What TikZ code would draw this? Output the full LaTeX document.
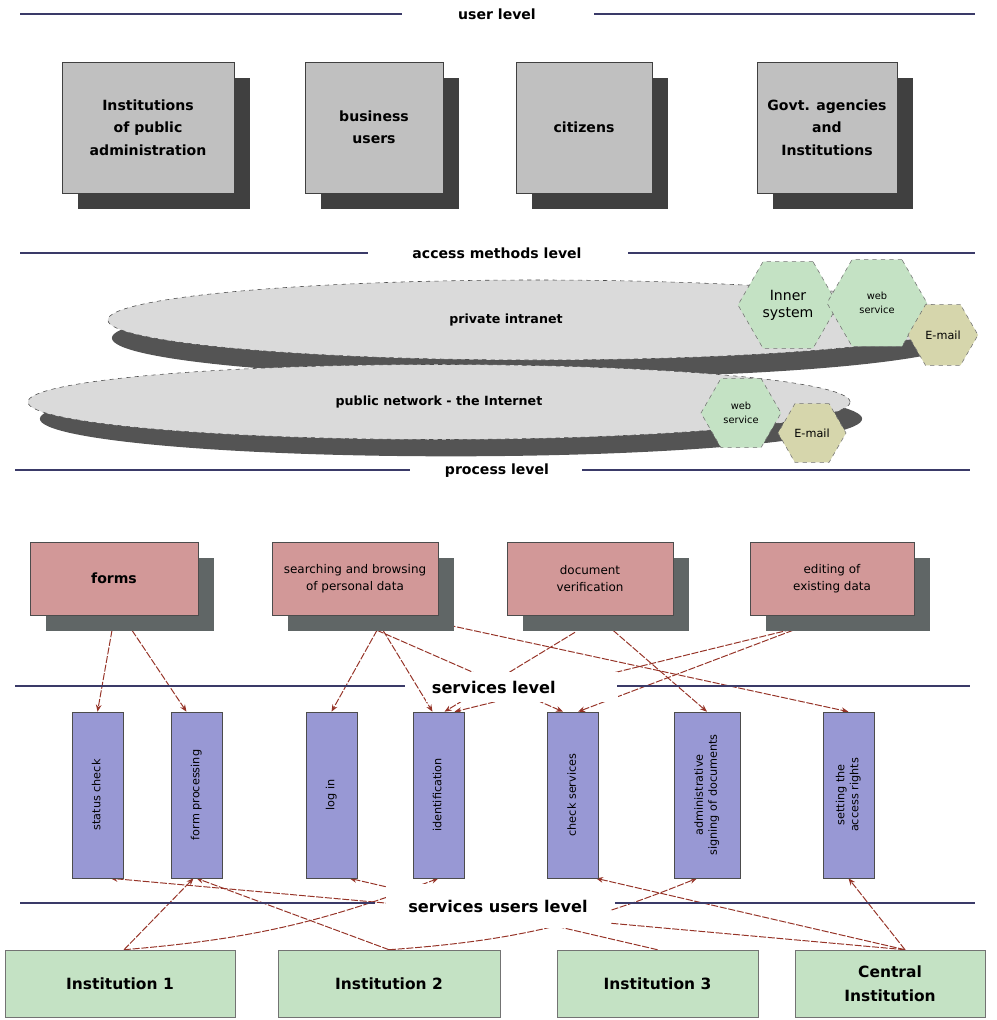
\documentclass[tikz,border=0pt]{standalone}
\usepackage{fontspec}
\setmainfont{DejaVu Sans}
\usetikzlibrary{positioning, arrows.meta, shapes.geometric, shadows, backgrounds}
\definecolor{rulecol}{RGB}{58,58,104}
\definecolor{usrfill}{RGB}{192,192,192}
\definecolor{shade}{RGB}{64,64,64}
\definecolor{netfill}{RGB}{218,218,218}
\definecolor{netshade}{RGB}{84,84,84}
\definecolor{hexgreen}{RGB}{196,226,196}
\definecolor{hextan}{RGB}{214,214,172}
\definecolor{procfill}{RGB}{210,152,152}
\definecolor{procshade}{RGB}{96,102,102}
\definecolor{svcfill}{RGB}{152,152,212}
\definecolor{instfill}{RGB}{196,226,196}
\definecolor{linkcol}{RGB}{150,52,40}
\newcommand{\vtext}[1]{\rotatebox{90}{\begin{tabular}{@{}c@{}}#1\end{tabular}}}

\begin{document}
\begin{tikzpicture}[x=0.025cm, y=-0.025cm,
  lvl/.style={font=\bfseries\fontsize{10}{12}\selectfont, fill=white, inner sep=2pt},
  rule/.style={draw=rulecol, line width=2pt},
  usr/.style={draw=black!75, fill=usrfill, minimum height=3.275cm, align=center,
              font=\bfseries\fontsize{10}{16}\selectfont,
              drop shadow={shadow xshift=0.4cm, shadow yshift=-0.4cm, fill=shade, opacity=1}},
  net/.style={ellipse, draw=black!70, dashed, fill=netfill,
              font=\bfseries\fontsize{9}{11}\selectfont},
  hex/.style={regular polygon, regular polygon sides=6, draw=black!55, dashed,
              fill=hexgreen, inner sep=0pt, align=center},
  proc/.style={draw=black!70, fill=procfill, minimum height=1.825cm, align=center,
               font=\fontsize{8.5}{12}\selectfont,
               drop shadow={shadow xshift=0.4cm, shadow yshift=-0.4cm, fill=procshade, opacity=1}},
  svc/.style={draw=black!70, fill=svcfill, minimum width=1.275cm, minimum height=4.15cm,
              font=\fontsize{8}{10}\selectfont},
  inst/.style={draw=black!55, fill=instfill, minimum height=1.675cm, align=center,
               font=\bfseries\fontsize{11}{17}\selectfont},
  link/.style={draw=linkcol, line width=.7pt, dash pattern=on 5pt off 1.2pt,
               -{Stealth[length=5pt,width=4pt]}},
]
\useasboundingbox (0,0) rectangle (997,1020);

% user level
\node[lvl] (lvuser) at (497,14) {user level};
\draw[rule] (20,14) -- (402,14);
\draw[rule] (594,14) -- (975,14);
\node[usr, minimum width=4.3cm] (pubadm) at (148,127.5) {Institutions\\of public\\administration};
\node[usr, minimum width=3.45cm] (biz) at (374,127.5) {business\\users};
\node[usr, minimum width=3.4cm] (citz) at (584,127.5) {citizens};
\node[usr, minimum width=3.5cm] (govt) at (827,127.5) {Govt. agencies\\and\\Institutions};

% access methods level
\node[lvl] (lvaccess) at (497,253) {access methods level};
\draw[rule] (20,253) -- (368,253);
\draw[rule] (628,253) -- (975,253);
\node[net, minimum width=21.4cm, minimum height=2cm,
      drop shadow={shadow xshift=0.1cm, shadow yshift=-0.45cm, fill=netshade, opacity=1}]
  (intra) at (536,320) {private intranet\hspace*{1.5cm}};
\node[net, minimum width=20.55cm, minimum height=1.875cm,
      drop shadow={shadow xshift=0.3cm, shadow yshift=-0.42cm, fill=netshade, opacity=1}]
  (inet) at (439,402) {public network - the Internet};
\node[hex, minimum size=2.5cm, font=\fontsize{10}{12}\selectfont] (inner) at (788,305) {Inner\\system};
\node[hex, minimum size=2.5cm, font=\fontsize{7}{10}\selectfont] (websvc) at (877,303) {web\\service};
\node[hex, fill=hextan, minimum size=1.75cm, font=\fontsize{8}{10}\selectfont] (mail) at (943,335) {E-mail};
\node[hex, minimum size=2cm, font=\fontsize{7}{10}\selectfont] (websvcb) at (741,413) {web\\service};
\node[hex, fill=hextan, minimum size=1.7cm, font=\fontsize{8}{10}\selectfont] (mailb) at (812,433) {E-mail};

% process level
\node[lvl] (lvproc) at (497,471) {process level};
\draw[rule] (15,470) -- (410,470);
\draw[rule] (582,470) -- (970,470);
\node[proc, minimum width=4.2cm, font=\bfseries\fontsize{10}{12}\selectfont] (forms) at (114,578.5) {forms};
\node[proc, minimum width=4.15cm] (browse) at (355,578.5) {searching and browsing\\of personal data};
\node[proc, minimum width=4.15cm] (verify) at (590,578.5) {document\\verification};
\node[proc, minimum width=4.1cm] (edit) at (832,578.5) {editing of\\existing data};

% services level
\node[lvl, font=\bfseries\fontsize{11.5}{13}\selectfont, anchor=west, text width=4.5cm,
      align=left, inner xsep=4pt, minimum height=0.75cm]
  (lvsvc) at (426,687) {services level};
\draw[rule] (15,686) -- (405,686);
\draw[rule] (617,686) -- (970,686);
\node[svc] (status) at (97.5,795) {\vtext{status check}};
\node[svc] (formproc) at (196.5,795) {\vtext{form processing}};
\node[svc] (login) at (331.5,795) {\vtext{log in}};
\node[svc] (ident) at (438.5,795) {\vtext{identification}};
\node[svc] (checks) at (573,795) {\vtext{check services}};
\node[svc, minimum width=1.65cm] (signing) at (707,795) {\vtext{administrative\\signing of documents}};
\node[svc] (rights) at (848.5,795) {\vtext{setting the\\access rights}};

% services users level
\node[lvl, font=\bfseries\fontsize{11.5}{13}\selectfont, minimum width=5.6cm, minimum height=1.1cm]
  (lvusers) at (498,906) {services users level};
\draw[rule] (20,903) -- (375,903);
\draw[rule] (615,903) -- (975,903);
\node[inst, minimum width=5.75cm] (inst1) at (120,983.5) {Institution 1};
\node[inst, minimum width=5.55cm] (inst2) at (389,983.5) {Institution 2};
\node[inst, minimum width=5.025cm] (inst3) at (657.5,983.5) {Institution 3};
\node[inst, minimum width=4.75cm] (central) at (890,983.5) {Central\\Institution};

\begin{scope}[on background layer]
% links down to the services
\draw[link] ([shift={(-2,15)}]forms.south) -- (status.north);
\draw[link] ([shift={(18,15)}]forms.south) -- ([shift={(-10,0)}]formproc.north);
\draw[link] ([shift={(22,15)}]browse.south) -- (login.north);
\draw[link] ([shift={(28,15)}]browse.south) -- ([shift={(-6,0)}]ident.north);
\draw[link] ([shift={(22,15)}]browse.south) -- ([shift={(-10,0)}]checks.north);
\draw[link] ([shift={(85,8)}]browse.south) -- (rights.north);
\draw[link] ([shift={(-15,17)}]verify.south) -- ([shift={(6,0)}]ident.north);
\draw[link] ([shift={(23,15)}]verify.south) -- (signing.north);
\draw[link] ([shift={(-32,12)}]edit.south) -- ([shift={(16,0)}]ident.north);
\draw[link] ([shift={(-39,15)}]edit.south) -- ([shift={(5,0)}]checks.north);

% links up from the institutions
\draw[link] ([shift={(4,0)}]inst1.north) -- ([shift={(-3,0)}]formproc.south);
\draw[link] ([shift={(4,0)}]inst1.north) to[bend right=8] (ident.south);
\draw[link] (inst2.north) -- (formproc.south);
\draw[link] (inst2.north) to[bend right=9] ([shift={(-10,0)}]signing.south);
\draw[link] (inst3.north) -- ([shift={(18,0)}]login.south);
\draw[link] ([shift={(15,0)}]central.north) -- ([shift={(13,0)}]status.south);
\draw[link] ([shift={(15,0)}]central.north) -- ([shift={(23,0)}]checks.south);
\draw[link] ([shift={(15,0)}]central.north) -- (rights.south);
\end{scope}
\end{tikzpicture}
\end{document}
